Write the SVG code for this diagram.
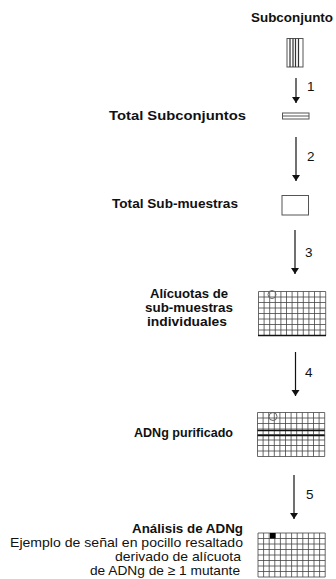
<svg xmlns="http://www.w3.org/2000/svg" width="336" height="579" viewBox="0 0 336 579">
<style>
text{font-family:"Liberation Sans",Arial,sans-serif;fill:#111}
.h{font-weight:bold;font-size:13px}
.t{font-size:13.5px}
.n{font-size:13.5px}
.grid{fill:none;stroke:#444;stroke-width:0.8}
.conn line{stroke:#111;stroke-width:1.2}
.box{fill:#fff;stroke:#555;stroke-width:1}
.ring{fill:none;stroke:#666;stroke-width:1}
</style>
<defs>
<marker id="ah" viewBox="0 0 6 10" refX="6" refY="5" markerWidth="6" markerHeight="10" markerUnits="userSpaceOnUse" orient="auto">
<path d="M0 1 L6 5 L0 9 Z" fill="#111"/>
</marker>
<path id="grid" d="M0 0V44M5.6 0V44M11.2 0V44M16.8 0V44M22.4 0V44M28 0V44M33.6 0V44M39.2 0V44M44.8 0V44M50.4 0V44M56 0V44M61.6 0V44M67.2 0V44M0 0H67.2M0 5.5H67.2M0 11H67.2M0 16.5H67.2M0 22H67.2M0 27.5H67.2M0 33H67.2M0 38.5H67.2M0 44H67.2"/>
</defs>
<rect width="336" height="579" fill="#fff"/>

<g id="subconjunto">
<text class="h" x="333" y="22" text-anchor="end" textLength="82" lengthAdjust="spacingAndGlyphs">Subconjunto</text>
<rect class="box" x="287" y="38.5" width="16" height="28.5"/>
<path d="M290 38.5V67M293 38.5V67M295.5 38.5V67M298.5 38.5V67" stroke="#333" stroke-width="1.2"/>
</g>

<g id="total-subconjuntos">
<text class="h" x="246" y="120" text-anchor="end" textLength="137" lengthAdjust="spacingAndGlyphs">Total Subconjuntos</text>
<rect class="box" x="282.5" y="113" width="26.5" height="6"/>
<line x1="282.5" y1="116" x2="309" y2="116" stroke="#555" stroke-width="1"/>
</g>

<g id="total-submuestras">
<text class="h" x="238" y="208" text-anchor="end" textLength="126" lengthAdjust="spacingAndGlyphs">Total Sub-muestras</text>
<rect class="box" x="282" y="195.5" width="26.5" height="19.5"/>
</g>

<g id="alicuotas">
<text class="h" x="189" y="298" text-anchor="middle" textLength="78" lengthAdjust="spacingAndGlyphs">Alícuotas de</text>
<text class="h" x="189" y="312" text-anchor="middle" textLength="88" lengthAdjust="spacingAndGlyphs">sub-muestras</text>
<text class="h" x="187" y="326" text-anchor="middle" textLength="80" lengthAdjust="spacingAndGlyphs">individuales</text>
<use href="#grid" class="grid" transform="translate(258.5,291.5)"/>
<line x1="258" y1="335.5" x2="326" y2="335.5" stroke="#111" stroke-width="1.6"/>
<circle class="ring" cx="272" cy="294.5" r="4"/>
</g>

<g id="adng-purificado">
<text class="h" x="233" y="437" text-anchor="end" textLength="99" lengthAdjust="spacingAndGlyphs">ADNg purificado</text>
<use href="#grid" class="grid" transform="translate(257.5,412.5)"/>
<path d="M257.5 430.5H324.7M257.5 435.5H324.7" stroke="#111" stroke-width="1.4"/>
<circle class="ring" cx="273" cy="416.5" r="4"/>
</g>

<g id="analisis-adng">
<text class="h" x="243" y="533" text-anchor="end" textLength="111" lengthAdjust="spacingAndGlyphs">Análisis de ADNg</text>
<text class="t" x="243" y="547" text-anchor="end" textLength="233" lengthAdjust="spacingAndGlyphs">Ejemplo de señal en pocillo resaltado</text>
<text class="t" x="241" y="561" text-anchor="end" textLength="126" lengthAdjust="spacingAndGlyphs">derivado de alícuota</text>
<text class="t" x="240" y="574.5" text-anchor="end" textLength="150" lengthAdjust="spacingAndGlyphs">de ADNg de ≥ 1 mutante</text>
<use href="#grid" class="grid" transform="translate(258,533)"/>
<rect x="270" y="533" width="5.6" height="5.5" fill="#000"/>
</g>

<g id="connectors" class="conn">
<line x1="296" y1="78" x2="296" y2="103" marker-end="url(#ah)"/>
<line x1="296" y1="137" x2="296" y2="181" marker-end="url(#ah)"/>
<line x1="295" y1="230" x2="295" y2="274" marker-end="url(#ah)"/>
<line x1="295.5" y1="352" x2="295.5" y2="396" marker-end="url(#ah)"/>
<line x1="294" y1="475" x2="294" y2="519" marker-end="url(#ah)"/>
<text class="n" x="307" y="91">1</text>
<text class="n" x="307" y="161">2</text>
<text class="n" x="305" y="257">3</text>
<text class="n" x="305" y="377">4</text>
<text class="n" x="306" y="499">5</text>
</g>
</svg>
